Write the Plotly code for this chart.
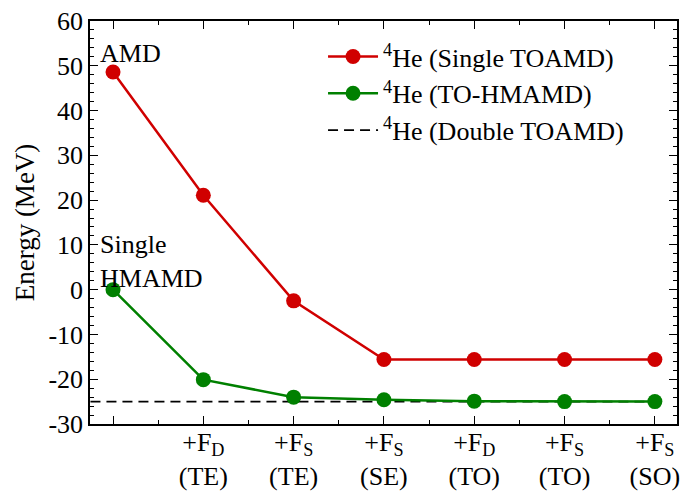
import plotly.graph_objects as go

categories = [0, 1, 2, 3, 4, 5, 6]
tick_labels = ["", "+F<sub>D</sub><br>(TE)", "+F<sub>S</sub><br>(TE)", "+F<sub>S</sub><br>(SE)",
               "+F<sub>D</sub><br>(TO)", "+F<sub>S</sub><br>(TO)", "+F<sub>S</sub><br>(SO)"]
y_tick_vals = [-30, -20, -10, 0, 10, 20, 30, 40, 50, 60]
y_tick_labels = ["-30", "-20", "-10", "0", "10", "20", "30", "40", "50", "60"]
single_toamd = [48.6, 21.1, -2.5, -15.6, -15.6, -15.6, -15.6]
to_hmamd = [0.0, -20.1, -24.0, -24.6, -24.9, -25.0, -25.0]
double_toamd_x = [-0.25, 6.0]
double_toamd = [-25.0, -25.0]

FONT = "Liberation Serif"
RED = "#d00000"
GREEN = "#008000"

fig = go.Figure()
fig.add_trace(go.Scatter(
    x=double_toamd_x, y=double_toamd, mode="lines",
    name="<sup>4</sup>He (Double TOAMD)", legendgroup="c", legendrank=3,
    line=dict(color="black", width=1.8, dash="10px,6px")))
fig.add_trace(go.Scatter(
    x=categories, y=single_toamd, mode="lines+markers",
    name="<sup>4</sup>He (Single TOAMD)", legendgroup="a", legendrank=1,
    line=dict(color=RED, width=2.5), marker=dict(color=RED, size=15)))
fig.add_trace(go.Scatter(
    x=categories, y=to_hmamd, mode="lines+markers",
    name="<sup>4</sup>He (TO-HMAMD)", legendgroup="b", legendrank=2,
    line=dict(color=GREEN, width=2.5), marker=dict(color=GREEN, size=15)))

axis_common = dict(
    showline=True, linecolor="black", linewidth=1.5, mirror="ticks",
    ticks="inside", tickcolor="black", ticklen=8, tickwidth=1.3,
    showgrid=False, zeroline=False, automargin=False,
    tickfont=dict(family=FONT, size=26, color="black"),
)

fig.update_xaxes(
    range=[-0.255, 6.245], tickvals=categories, ticktext=tick_labels,
    minor=dict(ticks="inside", ticklen=4, tickcolor="black", dtick=0.5, tick0=0.5, showgrid=False),
    **axis_common)
try:
    fig.update_xaxes(ticklabelstandoff=-6)
except ValueError:
    pass
fig.update_yaxes(
    range=[-30, 60], tickvals=y_tick_vals, ticktext=y_tick_labels,
    title=dict(text="Energy (MeV)", font=dict(family=FONT, size=27, color="black"), standoff=6),
    minor=dict(ticks="inside", ticklen=4, tickcolor="black", dtick=2, tick0=0, showgrid=False),
    **axis_common)

fig.add_annotation(x=-0.17, y=48.6, xref="x", yref="y", text="AMD", showarrow=False,
                   xanchor="left", yanchor="bottom", yshift=2,
                   font=dict(family=FONT, size=26, color="black"))
fig.add_annotation(x=-0.17, y=-1.2, xref="x", yref="y", text="Single<br>HMAMD", showarrow=False,
                   xanchor="left", yanchor="bottom", align="left",
                   font=dict(family=FONT, size=26, color="black"))

fig.update_layout(
    width=684, height=491,
    margin=dict(l=90, r=7, t=21, b=67),
    paper_bgcolor="white", plot_bgcolor="white",
    font=dict(family=FONT, color="black"),
    legend=dict(x=0.397, y=0.97, xanchor="left", yanchor="top",
                bgcolor="rgba(0,0,0,0)", tracegroupgap=0, itemwidth=50,
                font=dict(family=FONT, size=26, color="black"),
                traceorder="grouped"),
)
fig.write_html("out.html", config={"displayModeBar": False},
               post_script="document.body.style.margin='0px';")
